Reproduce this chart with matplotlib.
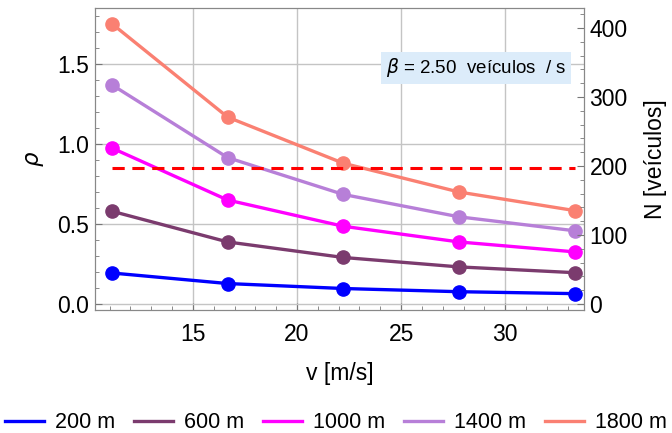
import matplotlib
matplotlib.use("Agg")
import matplotlib.pyplot as plt
from matplotlib.ticker import MultipleLocator

plt.rcParams['font.family'] = ['Liberation Sans', 'DejaVu Sans']

fs = 16.5

# velocidades (40, 60, 80, 100, 120 km/h em m/s)
v = [11.11, 16.67, 22.22, 27.78, 33.33]

labels = ["200 m", "600 m", "1000 m", "1400 m", "1800 m"]
colors = ["#0000ff", "#7b3b6e", "#ff00ff", "#b77fd8", "#fa8072"]

rho_200 = [0.194, 0.128, 0.097, 0.077, 0.065]
rho_600 = [0.580, 0.388, 0.291, 0.232, 0.196]
rho_1000 = [0.975, 0.650, 0.486, 0.388, 0.326]
rho_1400 = [1.370, 0.915, 0.685, 0.545, 0.458]
rho_1800 = [1.752, 1.168, 0.880, 0.700, 0.584]
series = [rho_200, rho_600, rho_1000, rho_1400, rho_1800]

rho_crit = 0.85
n_per_rho = 231.9  # escala do eixo direito

fig = plt.figure(figsize=(6.72, 4.33), dpi=100)
ax = fig.add_axes([0.1414, 0.284, 0.7276, 0.6975])

for y, c, lab in zip(series, colors, labels):
    ax.plot(v, y, "-", color=c, lw=2.4, label=lab)
    ax.plot(v, y, "o", color=c, ms=9.5)

ax.plot([v[0], v[-1]], [rho_crit, rho_crit], "--", color="#ff0000", lw=2.2, dashes=(4, 2.5))

ax.set_xlim(10.3, 33.78)
ax.set_ylim(-0.0375, 1.85)
ax.xaxis.set_major_locator(MultipleLocator(5))
ax.xaxis.set_minor_locator(MultipleLocator(1))
ax.yaxis.set_major_locator(MultipleLocator(0.5))
ax.yaxis.set_minor_locator(MultipleLocator(0.1))
ax.yaxis.set_major_formatter(matplotlib.ticker.FormatStrFormatter("%.1f"))
ax.grid(True, which="major", color="#c4c4c4", lw=1)
ax.set_axisbelow(True)
ax.tick_params(which="both", direction="in", labelsize=fs, color="#777777", pad=4)
ax.tick_params(axis="x", which="both", pad=9)
ax.tick_params(which="major", length=5)
ax.tick_params(which="minor", length=3)
for s in ax.spines.values():
    s.set_color("#888888")

ax.set_xlabel("v [m/s]", fontsize=fs, labelpad=12)
ax.set_ylabel(r"$\rho$", fontsize=fs, labelpad=8)

ax2 = ax.twinx()
ax2.set_ylim(ax.get_ylim()[0] * n_per_rho, ax.get_ylim()[1] * n_per_rho)
ax2.yaxis.set_major_locator(MultipleLocator(100))
ax2.yaxis.set_minor_locator(MultipleLocator(20))
ax2.tick_params(which="both", direction="in", labelsize=fs, color="#777777", pad=4)
ax2.tick_params(which="major", length=5)
ax2.tick_params(which="minor", length=3)
for s in ax2.spines.values():
    s.set_color("#888888")
ax2.set_ylabel("N [veículos]", fontsize=fs, labelpad=12)

ax.text(28.6, 1.477, r"$\beta$ = 2.50  veículos  / s", fontsize=13.5,
        ha="center", va="center",
        bbox=dict(boxstyle="square,pad=0.25", fc="#dcecfa", ec="none"))

handles, labs = ax.get_legend_handles_labels()
fig.legend(handles, labs, loc="lower center", bbox_to_anchor=(0.5, -0.045), ncol=5,
           frameon=False, fontsize=15.5, handlelength=1.8, columnspacing=0.9,
           handletextpad=0.5)

fig.savefig("out.png", dpi=100)
